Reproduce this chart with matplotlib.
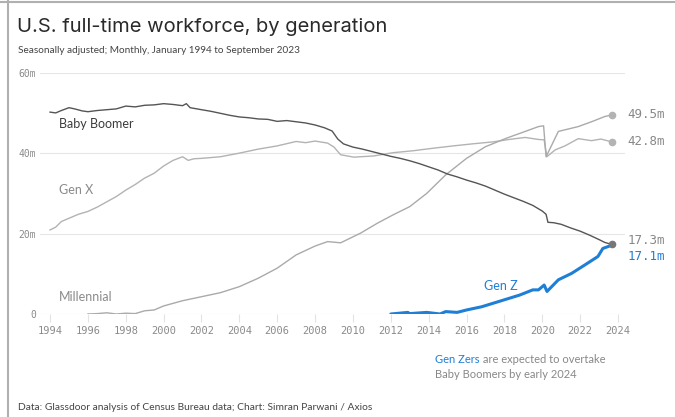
import matplotlib
matplotlib.use("Agg")
import matplotlib.pyplot as plt

# values (decimal year, millions of workers)
boomer_years = [1994.0, 1994.3, 1994.6, 1995.0, 1995.3, 1995.7, 1996.0, 1996.5, 1997.0, 1997.5,
                1998.0, 1998.5, 1999.0, 1999.5, 2000.0, 2000.5, 2001.0, 2001.2, 2001.4, 2002.0,
                2002.5, 2003.0, 2003.5, 2004.0, 2004.5, 2005.0, 2005.5, 2006.0, 2006.5, 2007.0,
                2007.5, 2008.0, 2008.5, 2008.9, 2009.2, 2009.5, 2010.0, 2010.5, 2011.0, 2011.5,
                2012.0, 2012.5, 2013.0, 2013.5, 2014.0, 2014.5, 2015.0, 2015.5, 2016.0, 2016.5,
                2017.0, 2017.5, 2018.0, 2018.5, 2019.0, 2019.5, 2020.0, 2020.2, 2020.3, 2020.6,
                2021.0, 2021.5, 2022.0, 2022.5, 2023.0, 2023.3, 2023.67]
boomer_vals = [50.2, 50.0, 50.6, 51.3, 51.0, 50.5, 50.3, 50.6, 50.8, 51.0,
               51.7, 51.5, 51.9, 52.0, 52.3, 52.1, 51.8, 52.3, 51.3, 50.8,
               50.4, 49.9, 49.4, 49.0, 48.8, 48.5, 48.4, 47.9, 48.1, 47.8,
               47.5, 47.0, 46.3, 45.5, 43.5, 42.3, 41.5, 41.0, 40.4, 39.8,
               39.2, 38.7, 38.1, 37.4, 36.6, 35.8, 34.8, 34.1, 33.3, 32.6,
               31.8, 30.8, 29.8, 28.9, 28.0, 27.0, 25.6, 24.8, 22.8, 22.7,
               22.3, 21.4, 20.6, 19.6, 18.5, 17.8, 17.3]

genx_years = [1994.0, 1994.3, 1994.6, 1995.0, 1995.5, 1996.0, 1996.5, 1997.0, 1997.5, 1998.0,
              1998.5, 1999.0, 1999.5, 2000.0, 2000.5, 2001.0, 2001.3, 2001.6, 2002.0, 2003.0,
              2004.0, 2005.0, 2006.0, 2007.0, 2007.5, 2008.0, 2008.66, 2009.0, 2009.35, 2010.05,
              2011.1, 2012.1, 2013.2, 2014.2, 2015.3, 2016.3, 2017.4, 2018.4, 2019.1, 2019.8,
              2020.1, 2020.24, 2020.68, 2021.2, 2021.9, 2022.6, 2023.1, 2023.67]
genx_vals = [20.9, 21.6, 23.0, 23.8, 24.8, 25.5, 26.6, 27.9, 29.2, 30.8,
             32.2, 33.8, 35.0, 36.8, 38.2, 39.1, 38.2, 38.6, 38.7, 39.1,
             40.0, 41.0, 41.8, 42.9, 42.6, 43.0, 42.5, 41.5, 39.6, 39.0,
             39.3, 40.1, 40.6, 41.2, 41.8, 42.3, 42.8, 43.5, 43.9, 43.4,
             43.3, 39.1, 40.8, 41.8, 43.6, 43.1, 43.5, 42.8]

mill_years = [1996.0, 1996.5, 1997.0, 1997.5, 1998.0, 1998.5, 1999.0, 1999.5, 2000.0, 2001.0,
              2002.0, 2003.0, 2004.0, 2005.0, 2006.0, 2007.0, 2008.0, 2008.66, 2009.35, 2010.4,
              2011.3, 2012.1, 2013.0, 2013.9, 2014.9, 2016.0, 2017.0, 2018.1, 2019.1, 2019.8,
              2020.07, 2020.2, 2020.5, 2020.85, 2021.9, 2022.6, 2023.3, 2023.67]
mill_vals = [0.0, 0.1, 0.3, 0.0, 0.2, 0.1, 0.8, 1.0, 2.0, 3.3,
             4.3, 5.3, 6.8, 8.9, 11.4, 14.7, 16.9, 18.0, 17.7, 20.1,
             22.6, 24.6, 26.7, 30.0, 34.6, 38.7, 41.6, 43.7, 45.4, 46.6,
             46.8, 39.1, 42.0, 45.4, 46.6, 47.8, 49.1, 49.5]

genz_years = [2012.0, 2012.9, 2013.0, 2013.9, 2014.6, 2014.9, 2015.5, 2016.0, 2016.8, 2017.7,
              2018.8, 2019.5, 2019.8, 2020.1, 2020.25, 2020.85, 2021.55, 2022.25, 2022.94, 2023.2,
              2023.67]
genz_vals = [0.0, 0.4, 0.1, 0.4, 0.0, 0.6, 0.4, 1.0, 1.8, 3.1,
             4.7, 6.0, 6.0, 7.2, 5.6, 8.5, 10.1, 12.2, 14.3, 16.3,
             17.1]

x_ticks = list(range(1994, 2025, 2))
y_ticks = [0, 20, 40, 60]
y_tick_labels = ["0", "20m", "40m", "60m"]

SANS = ["Lato", "DejaVu Sans"]
MONO = ["DejaVu Sans Mono"]
BLUE = "#1f7fd6"
DARK = "#555555"
LIGHT = "#b3b3b3"

fig = plt.figure(figsize=(6.75, 4.17), dpi=100)
ax = fig.add_axes([40 / 675, 103 / 417, 585 / 675, 241.3 / 417])

ax.plot(genx_years, genx_vals, color=LIGHT, lw=1.0)
ax.plot(mill_years, mill_vals, color="#aaaaaa", lw=1.0)
ax.plot(boomer_years, boomer_vals, color=DARK, lw=1.0)
ax.plot(genz_years, genz_vals, color=BLUE, lw=2.2, solid_capstyle="round")

# end dots + value labels
ax.plot(mill_years[-1], mill_vals[-1], "o", color=LIGHT, ms=4.5)
ax.plot(genx_years[-1], genx_vals[-1], "o", color=LIGHT, ms=4.5)
ax.plot(boomer_years[-1], boomer_vals[-1], "o", color="#777777", ms=4.5)
ends = [(mill_years, mill_vals, 0), (genx_years, genx_vals, 0), (boomer_years, boomer_vals, 3)]
for xs, ys, dy in ends:
    ax.annotate(f"{ys[-1]:.1f}m", (xs[-1], ys[-1]), xytext=(11, dy), textcoords="offset points",
                va="center", ha="left", fontsize=9, color="#888888", family=MONO,
                annotation_clip=False)
ax.annotate(f"{genz_vals[-1]:.1f}m", (genz_years[-1], genz_vals[-1]), xytext=(11, -8),
            textcoords="offset points", va="center", ha="left", fontsize=9, color=BLUE,
            family=MONO, annotation_clip=False)

# series labels
ax.text(1994.48, 47.3, "Baby Boomer", color="#3c3c3c", fontsize=9, family=SANS, va="center")
ax.text(1994.48, 30.8, "Gen X", color="#8a8a8a", fontsize=9, family=SANS, va="center")
ax.text(1994.48, 4.2, "Millennial", color="#8a8a8a", fontsize=9, family=SANS, va="center")
ax.text(2017.8, 7.0, "Gen Z", color=BLUE, fontsize=9, family=SANS, va="center", ha="center")

ax.set_xlim(1993.47, 2024.37)
ax.set_ylim(0, 60)
ax.set_xticks(x_ticks)
ax.set_xticklabels([str(y) for y in x_ticks], family=MONO, fontsize=7.5, color="#8a8a8a")
ax.set_yticks(y_ticks)
ax.set_yticklabels(y_tick_labels, family=MONO, fontsize=7, color="#8a8a8a")
ax.tick_params(axis="x", length=6, width=0.8, color="#e3e3e3", pad=3)
ax.tick_params(axis="y", length=0, pad=3)
ax.grid(axis="y", color="#e6e6e6", lw=0.8)
ax.set_axisbelow(True)
for s in ax.spines.values():
    s.set_visible(False)

# titles and notes
fig.text(17 / 675, 1 - 32 / 417, "U.S. full-time workforce, by generation", fontsize=14.5,
         family=["Inter", "DejaVu Sans"], color="#2a2a2a", va="baseline")
fig.text(18 / 675, 1 - 53 / 417, "Seasonally adjusted; Monthly, January 1994 to September 2023",
         fontsize=7.2, family=SANS, color="#444444", va="baseline")
fig.text(18 / 675, 1 - 410 / 417,
         "Data: Glassdoor analysis of Census Bureau data; Chart: Simran Parwani / Axios",
         fontsize=7.4, family=SANS, color="#444444", va="baseline")
t1 = fig.text(435 / 675, 1 - 363 / 417, "Gen Zers", fontsize=8, family=SANS, color=BLUE,
              va="baseline")
fig.text(435 / 675, 1 - 378 / 417, "Baby Boomers by early 2024", fontsize=8, family=SANS,
         color="#888888", va="baseline")
ax.annotate(" are expected to overtake", xy=(1, 0), xycoords=t1, va="bottom", ha="left",
            fontsize=8, family=SANS, color="#888888", annotation_clip=False)

# screenshot frame on the left and top
fig.add_artist(plt.Line2D([8 / 675, 8 / 675], [0, 1], color="#b0b0b0", lw=1.5))
fig.add_artist(plt.Line2D([0, 1], [1 - 1.5 / 417, 1 - 1.5 / 417], color="#b0b0b0", lw=1.5))

fig.savefig("out.png", dpi=100)
